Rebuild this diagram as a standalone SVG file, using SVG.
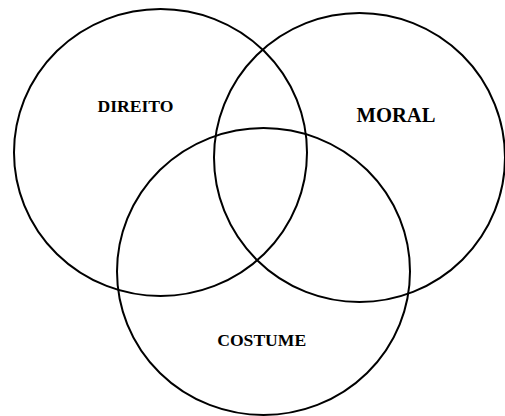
<svg xmlns="http://www.w3.org/2000/svg" width="505" height="416" viewBox="0 0 505 416">
<style>
.c{fill:none;stroke:#000;stroke-width:2}
.t{font-family:"Liberation Serif","Times New Roman",serif;font-weight:bold;text-anchor:middle;fill:#000}
</style>
<rect width="505" height="416" fill="#fff"/>
<g id="direito"><ellipse class="c" cx="160.5" cy="152.5" rx="146.5" ry="143.5"/><text class="t" x="135.5" y="112" font-size="17.6">DIREITO</text></g>
<g id="moral"><ellipse class="c" cx="359.5" cy="157.5" rx="145.5" ry="144.5"/><text class="t" x="396" y="121.5" font-size="20.6">MORAL</text></g>
<g id="costume"><ellipse class="c" cx="263.5" cy="271.5" rx="146.5" ry="143.5"/><text class="t" x="261.7" y="345.7" font-size="17.6">COSTUME</text></g>
<g id="connectors"/>
</svg>
